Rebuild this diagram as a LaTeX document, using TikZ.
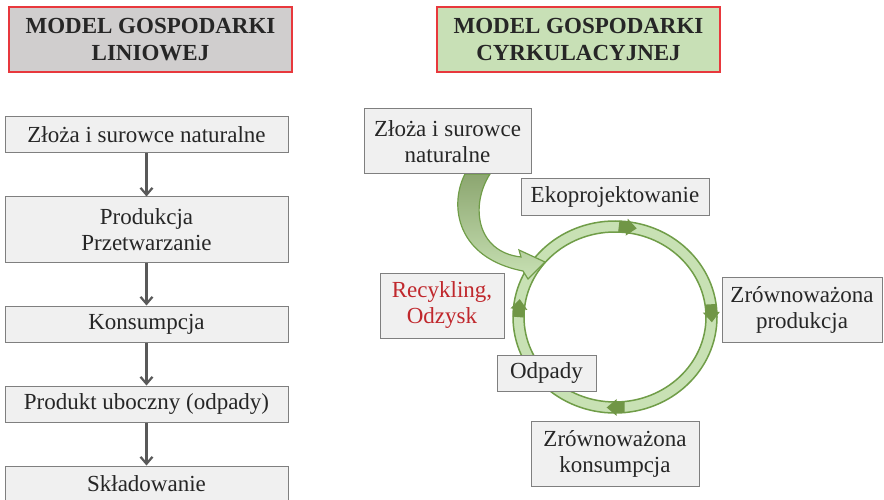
\documentclass[tikz,border=0pt]{standalone}
\usepackage{fontspec}
\setmainfont{Liberation Serif}
\usetikzlibrary{positioning,arrows.meta,calc,backgrounds}
\definecolor{fontgray}{RGB}{38,38,38}
\definecolor{boxgray}{RGB}{240,240,240}
\definecolor{linegray}{RGB}{127,127,127}
\definecolor{arrowgray}{RGB}{89,89,89}
\definecolor{myred}{RGB}{232,56,61}
\definecolor{txtred}{RGB}{192,40,45}
\definecolor{titlegray}{RGB}{208,206,206}
\definecolor{titlegreen}{RGB}{200,224,182}
\definecolor{ringline}{RGB}{112,157,72}
\definecolor{ringfill}{RGB}{200,225,180}
\definecolor{headgreen}{RGB}{112,150,70}
\definecolor{darkleaf}{RGB}{140,166,112}

\begin{document}
\begin{tikzpicture}[x=1pt, y=-1pt, node distance=43pt, >=Stealth,
			box/.style={draw=linegray, fill=boxgray, line width=1pt, rectangle, inner sep=2pt, align=center, text=fontgray, font=\fontsize{23}{26}\selectfont},
			onebox/.style={box, minimum height=36pt},
			twobox/.style={box, minimum height=65pt},
			title/.style={draw=myred, line width=2pt, rectangle, minimum width=283pt, minimum height=65pt, align=center, text=fontgray, font=\fontsize{23}{27}\selectfont\bfseries},
			flowArrow/.style={line width=2.2pt, color=arrowgray, -{Straight Barb[length=7pt, width=12pt]}},
			ringHead/.style={fill=headgreen, draw=none}
			]
			\useasboundingbox (0,0) rectangle (884,500);
			
			\node[title, fill=titlegray](linTitle) at (150.5,39.5) {MODEL GOSPODARKI\\LINIOWEJ};
			\node[title, fill=titlegreen](cyrTitle) at (578.5,39.5) {MODEL GOSPODARKI\\CYRKULACYJNEJ};
			
			% model liniowy
			\node[onebox, minimum width=283pt](lin1) at (146.5,135) {Złoża i surowce naturalne};
			\node[twobox, minimum width=283pt](lin2) [below = of lin1] {Produkcja\\Przetwarzanie};
			\node[onebox, minimum width=283pt](lin3) [below = of lin2] {Konsumpcja};
			\node[onebox, minimum width=283pt](lin4) [below = of lin3] {Produkt uboczny (odpady)};
			\node[onebox, minimum width=283pt](lin5) [below = of lin4] {Składowanie};
			
			\draw [flowArrow] (lin1) to (lin2);
			\draw [flowArrow] (lin2) to (lin3);
			\draw [flowArrow] (lin3) to (lin4);
			\draw [flowArrow] (lin4) to (lin5);
			
			% model cyrkulacyjny
			\coordinate (ringc) at (615,317);
			\node[twobox, minimum width=167pt](cyr1) at (447.5,141.5) {Złoża i surowce\\naturalne};
			\node[onebox, minimum width=188pt](cyr2) at (615,197) {Ekoprojektowanie};
			\node[twobox, minimum width=160pt](cyr3) at (802,309.5) {Zrównoważona\\produkcja};
			\node[twobox, minimum width=168pt](cyr4) at (615,453.5) {Zrównoważona\\konsumpcja};
			\node[onebox, minimum width=99pt](cyr5) at (546.5,373.5) {Odpady};
			\node[twobox, minimum width=124pt, text=txtred](cyr6) at (442,305.5) {Recykling,\\Odzysk};
			
			\begin{pgfonlayer}{background}
			
			\path [draw=ringline, line width=1.5pt, fill=ringfill, even odd rule] (ringc) ellipse [x radius=102, y radius=96] (ringc) ellipse [x radius=91, y radius=85];
			
			\foreach \t/\r in {83/-7, 3/-87, -89/180, 175/85}
				\path [ringHead, shift={($(ringc)+({96.5*cos(\t)},{-90.5*sin(\t)})$)}, rotate=\r] (-8,-5.5) -- (0,-5.5) -- (0,-8.5) -- (10,0) -- (0,8.5) -- (0,5.5) -- (-8,5.5) -- cycle;
			
			\path [draw=ringline, line width=1.2pt, top color=darkleaf, bottom color=ringfill] (465,174) .. controls (449,205) and (456,258) .. (523,271) -- (528,279) -- (545,262) -- (519,250) -- (521,257) .. controls (476,252) and (470,205) .. (490,174) -- cycle;
			
			\end{pgfonlayer}
			
			\end{tikzpicture}
\end{document}
